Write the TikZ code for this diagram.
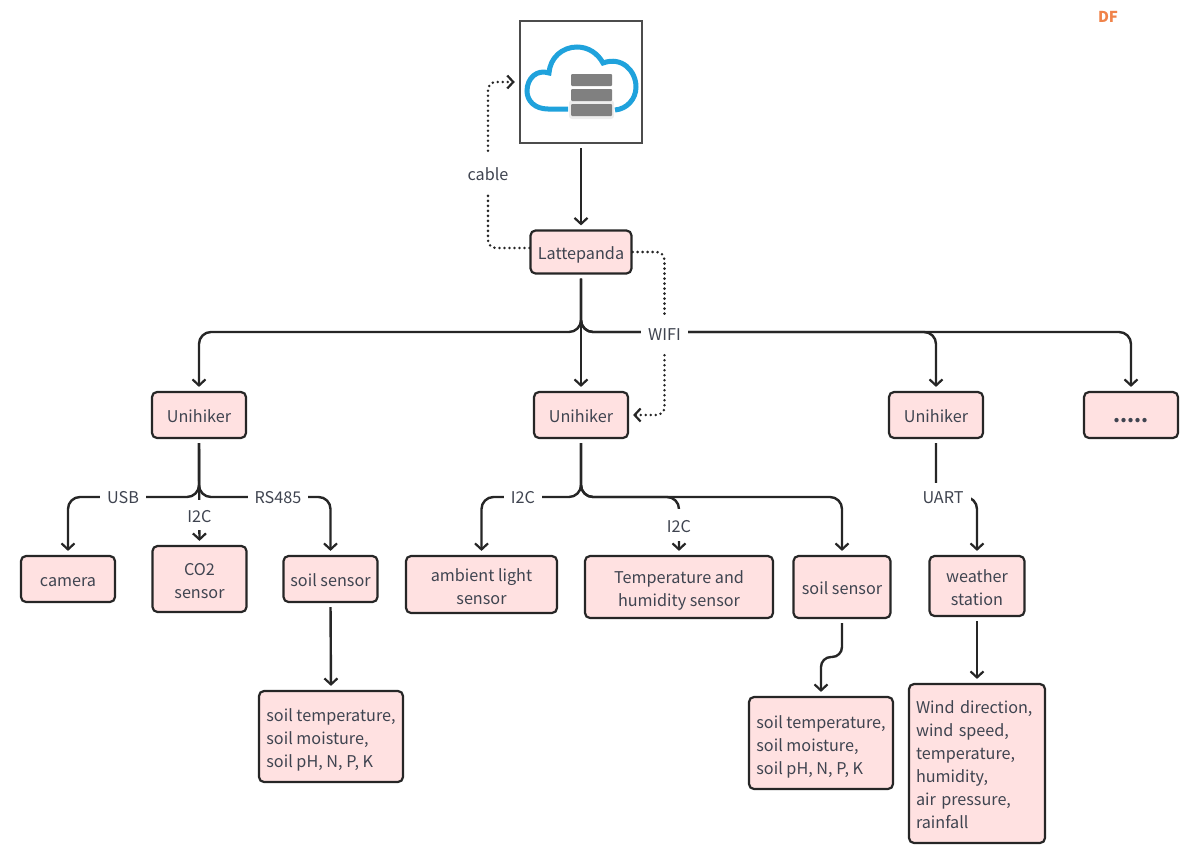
\documentclass[tikz,border=0pt]{standalone}
\usepackage{fontspec}
\setmainfont{Noto Sans CJK SC}
\usetikzlibrary{arrows.meta,backgrounds}
\definecolor{boxpink}{HTML}{FFE1E1}
\definecolor{inkgrey}{HTML}{3F4450}
\definecolor{cloudblue}{HTML}{1FA2DC}
\definecolor{markorange}{HTML}{F0834A}
\newcommand{\topgap}{\rule{0pt}{20pt}}
\begin{document}
\begin{tikzpicture}[x=1pt,y=-1pt,
  pbox/.style={draw=black!85,line width=2.2pt,fill=boxpink,rounded corners=5pt,inner sep=0pt,
    text=inkgrey,font=\fontsize{16.2}{23}\selectfont,align=center,
    execute at begin node={\rule{0pt}{18pt}},execute at end node={\rule[-4pt]{0pt}{4pt}}},
  lbl/.style={fill=white,inner xsep=7pt,inner ysep=0pt,minimum height=30pt,
    text=inkgrey,font=\fontsize{16.2}{23}\selectfont,
    execute at begin node={\rule{0pt}{18pt}},execute at end node={\rule[-4pt]{0pt}{4pt}}},
  conn/.style={draw=black!85,line width=2.4pt,rounded corners=12pt,shorten >=4pt,shorten <=4pt,
    -{Straight Barb[length=6pt,width=13pt,line width=2.2pt]}},
  wire/.style={draw=black!85,line width=2.8pt,line cap=round,dash pattern=on 0pt off 5pt,rounded corners=8pt,
    shorten >=4pt,shorten <=4pt,-{Straight Barb[length=6pt,width=13pt,line width=2.2pt]}}]
\useasboundingbox (0,0) rectangle (1200,865);
\node[draw=black!70,line width=2.5pt,minimum width=122pt,minimum height=122pt] (cloud) at (581,82) {};
\draw[cloudblue,line width=5pt] (568,109) -- (548,109) .. controls (535,109) and (527,101) .. (527,91)
  .. controls (527,78) and (537,69) .. (549,73) .. controls (550,58) and (562,47) .. (577,47)
  .. controls (589,47) and (598,54) .. (603,63) .. controls (622,56) and (636,71) .. (636,87)
  .. controls (636,99) and (627,109) .. (615,110);
\fill[black!7,rounded corners=3pt] (569,100) rectangle (614,119);
\foreach \ya in {74,89,104}
  \fill[black!50,rounded corners=1pt] (571,\ya) rectangle (612,\ya+12);
\node[pbox,minimum width=101pt,minimum height=43pt] (latte) at (581,252) {Lattepanda};
\node[pbox,minimum width=94pt,minimum height=46pt] (unia) at (199,415) {Unihiker};
\node[pbox,minimum width=94pt,minimum height=46pt] (unib) at (581,415) {Unihiker};
\node[pbox,minimum width=94pt,minimum height=46pt] (unic) at (936,415) {Unihiker};
\node[pbox,minimum width=94pt,minimum height=46pt,font=\fontsize{20}{23}\bfseries\selectfont] (more) at (1131,415) {.....};
\node[pbox,minimum width=94pt,minimum height=46pt] (camera) at (68,579) {camera};
\node[pbox,minimum width=94pt,minimum height=66pt] (cotwo) at (199.5,579) {\topgap CO2\\sensor};
\node[pbox,minimum width=94pt,minimum height=46pt] (soila) at (330.5,579) {soil sensor};
\node[pbox,align=left,minimum width=144pt,minimum height=91pt] (vala) at (331,736.5) {\topgap soil temperature,\\soil moisture,\\soil pH, N, P, K};
\node[pbox,minimum width=151pt,minimum height=57pt] (ambient) at (481.5,584.5) {\topgap ambient light\\sensor};
\node[pbox,minimum width=188pt,minimum height=62pt] (temphum) at (679,587) {\topgap Temperature and\\humidity sensor};
\node[pbox,minimum width=97pt,minimum height=62pt] (soilb) at (842,587) {soil sensor};
\node[pbox,align=left,minimum width=144pt,minimum height=92pt] (valb) at (821,743) {\topgap soil temperature,\\soil moisture,\\soil pH, N, P, K};
\node[pbox,minimum width=95pt,minimum height=60pt] (weather) at (977,586) {\topgap weather\\station};
\node[pbox,align=left,text width=122pt,inner xsep=7pt,minimum height=159pt] (wind) at (977,763.5) {Wind direction,\\wind speed,\\temperature,\\humidity,\\air pressure,\\rainfall};
\node[lbl,minimum height=36pt] (cable) at (488,173) {cable};
\node[lbl,minimum height=36pt] (wifi) at (664.5,333) {WIFI};
\node[lbl] (usb) at (123,496) {USB};
\node[lbl] (rsbus) at (278,496) {RS485};
\node[lbl] (itca) at (199.5,515) {I2C};
\node[lbl] (itcb) at (523,496) {I2C};
\node[lbl,minimum height=32pt] (itcc) at (679,525) {I2C};
\node[lbl,minimum height=26pt] (uart) at (943,496) {UART};
\node[text=markorange,font=\fontsize{15}{18}\bfseries\selectfont] (mark) at (1108,17) {DF};
\coordinate (busa) at (581,332);
\coordinate (busb) at (199,497);
\coordinate (busc) at (581,497);
\coordinate (busd) at (936,497);
\coordinate (bend) at (821,657);
\begin{pgfonlayer}{background}
\draw[conn] (cloud.south) -- (latte.north);
\draw[wire] ([yshift=4pt]latte.west) -| (cable) |- (cloud.west);
\draw[wire] (latte.east) -| (wifi) |- (unib.east);
\draw[conn] (latte.south) -- (unib.north);
\draw[conn] (latte.south) -- (busa) -| (unia.north);
\draw[conn] (latte.south) -- (busa) -| (unic.north);
\draw[conn] (latte.south) -- (busa) -| (more.north);
\draw[conn] (unia.south) -- (busb) -| (camera.north);
\draw[conn] (unia.south) -- (cotwo.north);
\draw[conn] (unia.south) -- (busb) -| (soila.north);
\draw[conn] (soila.south) -- (vala.north);
\draw[conn] (unib.south) -- (busc) -| (ambient.north);
\draw[conn] (unib.south) -- (busc) -| (temphum.north);
\draw[conn] (unib.south) -- (busc) -| (soilb.north);
\draw[conn,rounded corners=10pt] (soilb.south) |- (bend) -- (valb.north);
\draw[conn] (unic.south) -- (busd) -| (weather.north);
\draw[conn] (weather.south) -- (wind.north);
\end{pgfonlayer}
\end{tikzpicture}
\end{document}
